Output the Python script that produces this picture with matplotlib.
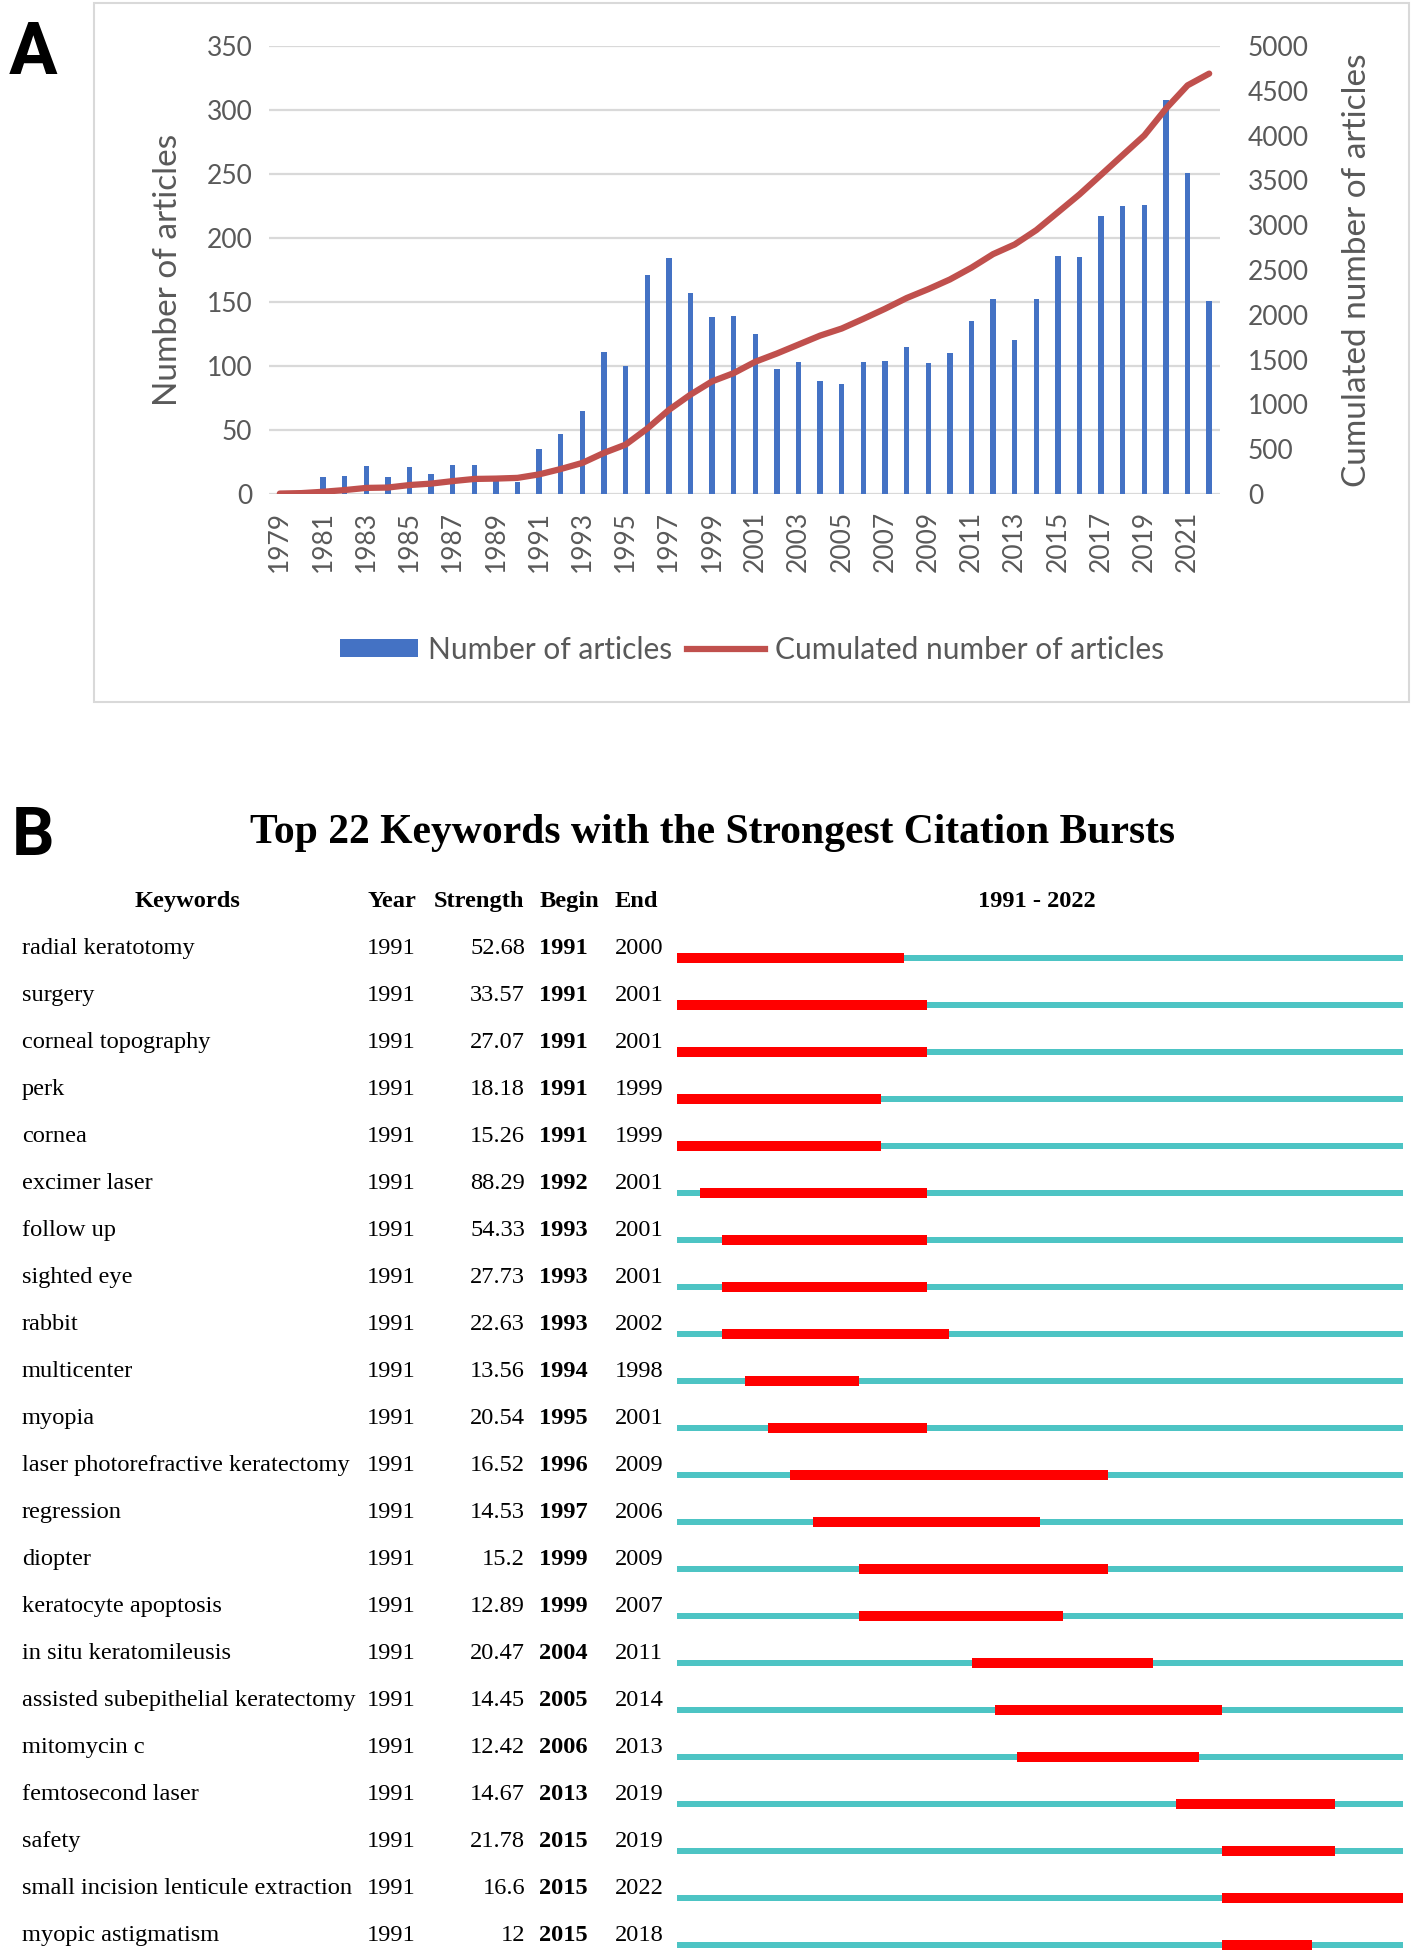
import matplotlib.pyplot as plt
import matplotlib.transforms as mtransforms
from matplotlib.patches import Rectangle, Patch
from matplotlib.lines import Line2D
from matplotlib import font_manager

# panel A data: articles per year and cumulated total
years = list(range(1979, 2023))
articles = [1, 2, 13, 14, 22, 13, 21, 16, 23, 23, 11, 9,
            35, 47, 65, 111, 100, 171, 184, 157, 138,
            139, 125, 98, 103, 88, 86, 103, 104, 115, 102,
            110, 135, 152, 120, 152, 186, 185, 217, 225, 226, 308, 251, 151]
cumulated = [5, 10, 25, 44, 68, 72, 100, 116, 144, 168, 172, 180,
             219, 279, 347, 459, 551, 730, 938, 1109, 1257,
             1349, 1476, 1568, 1668, 1768, 1847, 1955, 2067, 2187, 2286,
             2394, 2526, 2677, 2785, 2945, 3144, 3344, 3563, 3783, 4002, 4301, 4561, 4692]

# panel B data: citation bursts
keywords = ["radial keratotomy", "surgery", "corneal topography", "perk", "cornea",
            "excimer laser", "follow up", "sighted eye", "rabbit", "multicenter",
            "myopia", "laser photorefractive keratectomy", "regression", "diopter",
            "keratocyte apoptosis", "in situ keratomileusis",
            "assisted subepithelial keratectomy", "mitomycin c", "femtosecond laser",
            "safety", "small incision lenticule extraction", "myopic astigmatism"]
kw_year = [1991] * 22
strength = ["52.68", "33.57", "27.07", "18.18", "15.26", "88.29", "54.33", "27.73",
            "22.63", "13.56", "20.54", "16.52", "14.53", "15.2", "12.89", "20.47",
            "14.45", "12.42", "14.67", "21.78", "16.6", "12"]
begin = [1991, 1991, 1991, 1991, 1991, 1992, 1993, 1993, 1993, 1994, 1995, 1996,
         1997, 1999, 1999, 2004, 2005, 2006, 2013, 2015, 2015, 2015]
end = [2000, 2001, 2001, 1999, 1999, 2001, 2001, 2001, 2002, 1998, 2001, 2009,
       2006, 2009, 2007, 2011, 2014, 2013, 2019, 2019, 2022, 2018]
span_start, span_end = 1991, 2022

W, H = 1418, 1955
fig = plt.figure(figsize=(W / 100, H / 100), dpi=100)

def fx(px):
    return px / W

def fy(py):
    return 1 - py / H

grey = '#595959'
sans = ['Lato', 'DejaVu Sans']
serif = ['Liberation Serif', 'DejaVu Serif']
# narrow face for the panel letters, if one is around
names = {f.name for f in font_manager.fontManager.ttflist}
letter_font = 'Liberation Sans Narrow' if 'Liberation Sans Narrow' in names else 'Roboto'
letter_kw = dict(fontweight='bold', family=letter_font, va='center', ha='left')

# ---- panel A ----
fig.patches.append(Rectangle((fx(94), fy(702)), fx(1409) - fx(94), fy(3) - fy(702),
                             transform=fig.transFigure, fill=False,
                             edgecolor='#d9d9d9', lw=1.5))
fig.text(fx(9), fy(55), "A", fontsize=52, **letter_kw)

ax = fig.add_axes([fx(269), fy(494), fx(1220) - fx(269), fy(46) - fy(494)])
x = list(range(len(years)))
ax.bar(x, articles, width=0.25, color='#4472C4', zorder=2)
ax.set_xlim(-0.5, len(years) - 0.5)
ax.set_ylim(0, 350)
ax.set_yticks(range(0, 351, 50))
ax.yaxis.grid(True, color='#d9d9d9', lw=1.6, zorder=0)
ax.set_axisbelow(True)
ax.set_xticks(x[::2])
ax.set_xticklabels([str(y) for y in years[::2]], rotation=90)
for s in ax.spines.values():
    s.set_visible(False)
ax.tick_params(length=0, labelsize=19, labelcolor=grey, pad=12)
for lab in ax.get_xticklabels() + ax.get_yticklabels():
    lab.set_family(sans)
ax.set_ylabel("Number of articles", fontsize=24, color=grey, family=sans, labelpad=17)

ax2 = ax.twinx()
ax2.plot(x, cumulated, color='#C0504D', lw=4.5, solid_capstyle='round', zorder=3)
ax2.set_ylim(0, 5000)
ax2.set_yticks(range(0, 5001, 500))
for s in ax2.spines.values():
    s.set_visible(False)
ax2.tick_params(length=0, labelsize=19, labelcolor=grey, pad=20)
for lab in ax2.get_yticklabels():
    lab.set_family(sans)
ax2.set_ylabel("Cumulated number of articles", fontsize=24, color=grey, family=sans,
               labelpad=24)

handles = [Patch(facecolor='#4472C4', edgecolor='none'),
           Line2D([0], [0], color='#C0504D', lw=4.5)]
leg = fig.legend(handles, ["Number of articles", "Cumulated number of articles"],
                 loc='center', bbox_to_anchor=(fx(752), fy(650)), ncol=2, frameon=False,
                 handlelength=2.6, handleheight=0.55, columnspacing=0.5, handletextpad=0.35,
                 prop={'family': sans, 'size': 21.5})
for t in leg.get_texts():
    t.set_color(grey)

# ---- panel B ----
fig.text(fx(12), fy(837), "B", fontsize=48, **letter_kw)
fig.text(fx(712), fy(833), "Top 22 Keywords with the Strongest Citation Bursts",
         fontsize=30, fontweight='bold', ha='center', va='center', family=serif)

n = len(keywords)
bx = fig.add_axes([fx(677), fy(1945), fx(1403) - fx(677), fy(958) - fy(1945)])
bx.set_xlim(span_start, span_end + 1)
bx.set_ylim(n - 1, 0)
bx.axis('off')
for i in range(n):
    bx.barh(i, span_end + 1 - span_start, left=span_start, height=0.12,
            color='#4DC4C4', clip_on=False)
    bx.barh(i, end[i] + 1 - begin[i], left=begin[i], height=0.2,
            color='#FF0000', clip_on=False)

tr = mtransforms.blended_transform_factory(fig.transFigure, bx.transData)
hdr_y = -1.2
fs = 17.6
hdr = dict(transform=tr, ha='center', va='center', fontsize=fs, fontweight='bold',
           family=serif)
bx.text(fx(187), hdr_y, "Keywords", **hdr)
bx.text(fx(392), hdr_y, "Year", **hdr)
bx.text(fx(479), hdr_y, "Strength", **hdr)
bx.text(fx(569), hdr_y, "Begin", **hdr)
bx.text(fx(636), hdr_y, "End", **hdr)
bx.text(fx(1037), hdr_y, f"{span_start} - {span_end}", **hdr)

cell = dict(transform=tr, va='center', fontsize=fs, family=serif)
for i in range(n):
    yy = i - 0.2
    bx.text(fx(22), yy, keywords[i], ha='left', **cell)
    bx.text(fx(367), yy, str(kw_year[i]), ha='left', **cell)
    bx.text(fx(525), yy, strength[i], ha='right', **cell)
    bx.text(fx(539), yy, str(begin[i]), ha='left', fontweight='bold', **cell)
    bx.text(fx(615), yy, str(end[i]), ha='left', **cell)

fig.savefig("out.png", dpi=100, facecolor='white')
